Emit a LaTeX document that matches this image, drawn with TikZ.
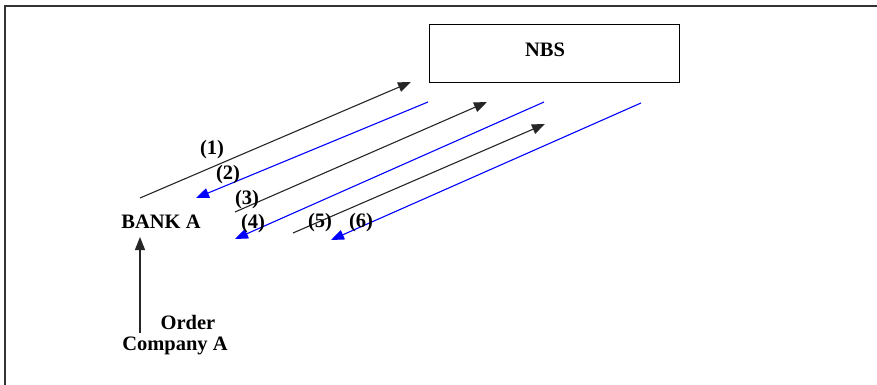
\documentclass[tikz,border=0pt]{standalone}
\usepackage{fontspec}
\setmainfont{Liberation Serif}
\usetikzlibrary{arrows.meta}
\begin{document}
\begin{tikzpicture}[x=1pt,y=-1pt,
  lbl/.style={font=\fontsize{20.5}{23}\selectfont\bfseries, inner sep=0pt},
  blk/.style={draw=black!85, line width=1.1pt, -{Triangle[length=13pt,width=10pt]}},
  blu/.style={draw=blue, line width=1.1pt, -{Triangle[length=13pt,width=10pt]}}]
\useasboundingbox (0,0) rectangle (877,385);
% frame
\draw[line width=2pt, draw=black!80] (877,6) -- (5,6) -- (5,385);
% NBS box
\node[draw, line width=1pt, minimum width=250pt, minimum height=58pt, inner sep=0pt] (nbs) at (554,54) {};
\node[lbl] (nbst) at (545,50) {NBS};
% endpoints
\coordinate (a1s) at (140,198); \coordinate (a1e) at (411,82);
\coordinate (a2s) at (428,102); \coordinate (a2e) at (196,198);
\coordinate (a3s) at (235,212); \coordinate (a3e) at (487,102);
\coordinate (a4s) at (544,102); \coordinate (a4e) at (235,239);
\coordinate (a5s) at (293,233); \coordinate (a5e) at (545,124);
\coordinate (a6s) at (641,103); \coordinate (a6e) at (331,240);
\draw[blk] (a1s) -- (a1e);
\draw[blu] (a2s) -- (a2e);
\draw[blk] (a3s) -- (a3e);
\draw[blu] (a4s) -- (a4e);
\draw[blk] (a5s) -- (a5e);
\draw[blu] (a6s) -- (a6e);
% labels
\node[lbl] (l1) at (212,150) {(1)};
\node[lbl] (l2) at (228,175) {(2)};
\node[lbl] (l3) at (247,200) {(3)};
\node[lbl] (l4) at (253,224) {(4)};
\node[lbl] (l5) at (320,223) {(5)};
\node[lbl] (l6) at (361,223) {(6)};
\node[lbl] (bank) at (161,222) {BANK A};
\node[lbl] (order) at (188,322) {Order};
\node[lbl] (comp) at (175,346) {Company A};
\coordinate (vs) at (140,333);
\coordinate (ve) at (140,237);
\draw[blk, line width=1.3pt] (vs) -- (ve);
\end{tikzpicture}
\end{document}
